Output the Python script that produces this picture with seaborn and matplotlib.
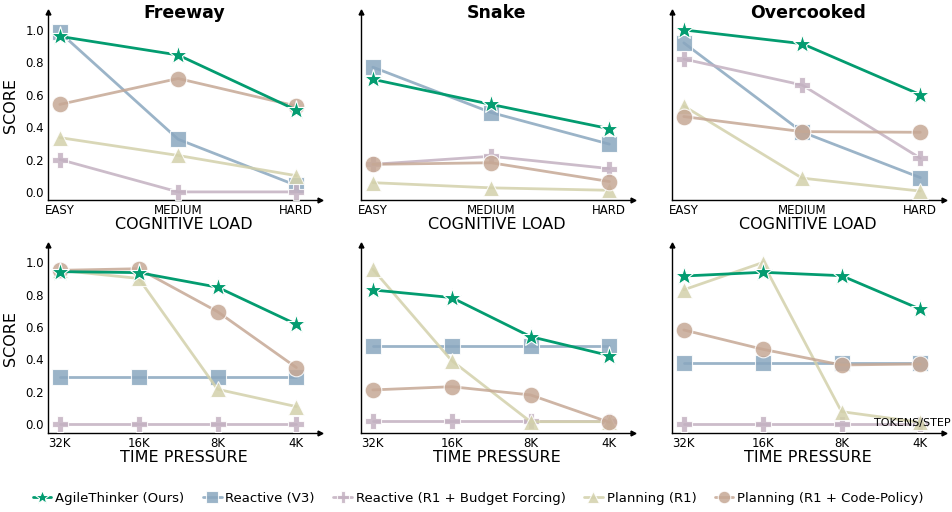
import numpy as np
import pandas as pd
import matplotlib
matplotlib.use("Agg")
import matplotlib.pyplot as plt
import seaborn as sns

# categories
load_levels = ["EASY", "MEDIUM", "HARD"]
time_levels = ["32K", "16K", "8K", "4K"]
games = ["Freeway", "Snake", "Overcooked"]
methods = [
    "AgileThinker (Ours)",
    "Reactive (V3)",
    "Reactive (R1 + Budget Forcing)",
    "Planning (R1)",
    "Planning (R1 + Code-Policy)",
]

# cognitive load scores, one list per method per game
load_freeway = {
    "AgileThinker (Ours)": [0.96, 0.845, 0.505],
    "Reactive (V3)": [0.985, 0.325, 0.04],
    "Reactive (R1 + Budget Forcing)": [0.20, 0.0, 0.0],
    "Planning (R1)": [0.335, 0.225, 0.10],
    "Planning (R1 + Code-Policy)": [0.54, 0.70, 0.53],
}
load_snake = {
    "AgileThinker (Ours)": [0.695, 0.54, 0.39],
    "Reactive (V3)": [0.77, 0.49, 0.295],
    "Reactive (R1 + Budget Forcing)": [0.17, 0.22, 0.144],
    "Planning (R1)": [0.057, 0.025, 0.01],
    "Planning (R1 + Code-Policy)": [0.17, 0.18, 0.064],
}
load_overcooked = {
    "AgileThinker (Ours)": [1.0, 0.915, 0.60],
    "Reactive (V3)": [0.92, 0.37, 0.088],
    "Reactive (R1 + Budget Forcing)": [0.82, 0.66, 0.208],
    "Planning (R1)": [0.53, 0.085, 0.005],
    "Planning (R1 + Code-Policy)": [0.465, 0.372, 0.368],
}

# time pressure scores
time_freeway = {
    "AgileThinker (Ours)": [0.942, 0.936, 0.846, 0.617],
    "Reactive (V3)": [0.29, 0.29, 0.29, 0.29],
    "Reactive (R1 + Budget Forcing)": [0.0, 0.0, 0.0, 0.0],
    "Planning (R1)": [0.95, 0.90, 0.216, 0.109],
    "Planning (R1 + Code-Policy)": [0.95, 0.96, 0.695, 0.35],
}
time_snake = {
    "AgileThinker (Ours)": [0.829, 0.782, 0.541, 0.424],
    "Reactive (V3)": [0.483, 0.483, 0.483, 0.483],
    "Reactive (R1 + Budget Forcing)": [0.022, 0.022, 0.022, 0.022],
    "Planning (R1)": [0.957, 0.393, 0.016, 0.016],
    "Planning (R1 + Code-Policy)": [0.212, 0.232, 0.181, 0.012],
}
time_overcooked = {
    "AgileThinker (Ours)": [0.915, 0.938, 0.917, 0.71],
    "Reactive (V3)": [0.38, 0.38, 0.38, 0.38],
    "Reactive (R1 + Budget Forcing)": [0.0, 0.0, 0.0, 0.0],
    "Planning (R1)": [0.83, 0.998, 0.078, 0.012],
    "Planning (R1 + Code-Policy)": [0.582, 0.463, 0.366, 0.372],
}

colors = {
    "AgileThinker (Ours)": "#039c70",
    "Reactive (V3)": "#8aa7bf",
    "Reactive (R1 + Budget Forcing)": "#c3b1c1",
    "Planning (R1)": "#d3d1ab",
    "Planning (R1 + Code-Policy)": "#c6a895",
}
markers = {
    "AgileThinker (Ours)": "*",
    "Reactive (V3)": "s",
    "Reactive (R1 + Budget Forcing)": "P",
    "Planning (R1)": "^",
    "Planning (R1 + Code-Policy)": "o",
}
msizes = {
    "AgileThinker (Ours)": 14,
    "Reactive (V3)": 11,
    "Reactive (R1 + Budget Forcing)": 12,
    "Planning (R1)": 11,
    "Planning (R1 + Code-Policy)": 12,
}


def to_frame(levels, scores):
    rows = []
    for m in methods:
        for lvl, v in zip(levels, scores[m]):
            rows.append({"level": lvl, "score": v, "method": m})
    return pd.DataFrame(rows)


sns.set_style("white")
plt.rcParams["font.family"] = ["DejaVu Sans"]
plt.rcParams["text.color"] = "black"
plt.rcParams["axes.labelcolor"] = "black"
plt.rcParams["xtick.color"] = "black"
plt.rcParams["ytick.color"] = "black"

W, H = 953, 512
fig = plt.figure(figsize=(W / 100, H / 100), dpi=100)

lefts = [48, 361, 672]
width_px = 272
rows_cfg = [
    (load_levels, [load_freeway, load_snake, load_overcooked], 200, 188.4,
     (-0.1, 2.2), (-0.05, 1.113), "COGNITIVE LOAD"),
    (time_levels, [time_freeway, time_snake, time_overcooked], 432.7, 187.8,
     (-0.15, 3.3), (-0.052, 1.107), "TIME PRESSURE"),
]

first_ax = None
for r, (levels, tables, bottom_px, height_px, xlim, ylim, xlab) in enumerate(rows_cfg):
    for c in range(3):
        ax = fig.add_axes([lefts[c] / W, (H - bottom_px) / H, width_px / W, height_px / H])
        df = to_frame(levels, tables[c])
        for m in methods:
            sub = df[df["method"] == m]
            ours = m == methods[0]
            sns.lineplot(
                data=sub, x="level", y="score", ax=ax, sort=False,
                color=colors[m], marker=markers[m], markersize=msizes[m],
                markeredgecolor="white", markeredgewidth=0.8,
                linewidth=2, alpha=1.0 if ours else 0.85,
                zorder=5 if ours else 3, label=m,
            )
        ax.set_xlim(*xlim)
        ax.set_ylim(*ylim)
        ax.set_yticks([0, 0.2, 0.4, 0.6, 0.8, 1.0])
        ax.set_yticklabels(["0.0", "0.2", "0.4", "0.6", "0.8", "1.0"])
        ax.tick_params(axis="both", length=0, pad=3, labelsize=8.5)
        if c > 0:
            ax.tick_params(axis="y", labelleft=False)
            ax.set_ylabel("")
        else:
            ax.set_ylabel("SCORE", fontsize=11.5, labelpad=5)
        ax.set_xlabel(xlab, fontsize=11.5, labelpad=0)
        for s in ["top", "right"]:
            ax.spines[s].set_visible(False)
        for s in ["left", "bottom"]:
            ax.spines[s].set_color("black")
            ax.spines[s].set_linewidth(1)
        ax.plot(1, 0, ">", color="black", ms=3.5, transform=ax.transAxes, clip_on=False)
        ax.plot(0, 1, "^", color="black", ms=3.5, transform=ax.transAxes, clip_on=False)
        if ax.get_legend() is not None:
            ax.get_legend().remove()
        if r == 0:
            ax.text(0.5, 0.99, games[c], transform=ax.transAxes, ha="center",
                    va="center", fontsize=12.5, fontweight="bold")
        if first_ax is None:
            first_ax = ax

fig.text(951 / W, (H - 423) / H, "TOKENS/STEP", ha="right", va="center", fontsize=8)

handles, labels = first_ax.get_legend_handles_labels()
fig.legend(handles[:5], labels[:5], loc="center", bbox_to_anchor=(0.502, 0.027),
           ncol=5, frameon=False, fontsize=9.5, handlelength=1.4, markerscale=0.75,
           handletextpad=0.3, columnspacing=1.4)

fig.savefig("out.png", dpi=100)
